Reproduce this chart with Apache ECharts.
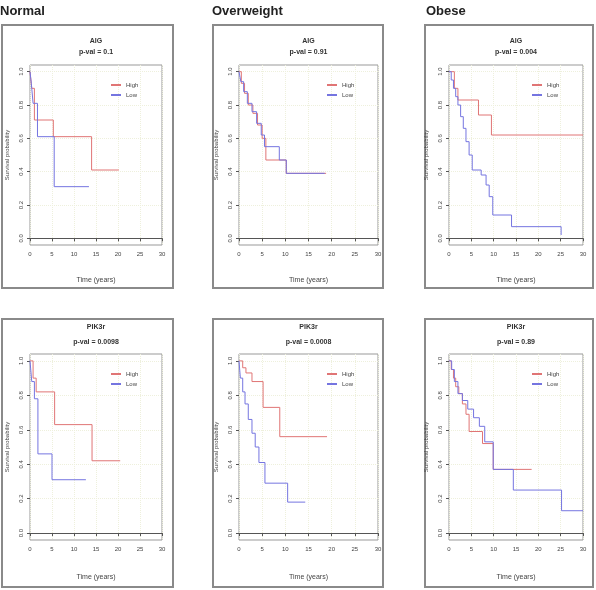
<!DOCTYPE html>
<html><head><meta charset="utf-8">
<script src="https://cdn.jsdelivr.net/npm/echarts@6/dist/echarts.min.js"></script>
<style>html,body{margin:0;padding:0;background:#fff}#c{width:596px;height:590px}</style>
</head><body><div id="c"></div>
<script>
// ---- data ----
var groups = ['Normal', 'Overweight', 'Obese'];
var genes = ['AIG', 'PIK3r'];
var pvals = [['p-val = 0.1', 'p-val = 0.91', 'p-val = 0.004'],
             ['p-val = 0.0098', 'p-val = 0.0008', 'p-val = 0.89']];
var seriesNames = ['High', 'Low'];
var xTicks = [0, 5, 10, 15, 20, 25, 30];
var yTicks = [0, 0.2, 0.4, 0.6, 0.8, 1.0];

// [time, survival] step points
var normalAigHigh = [[0,1],[0.4,0.9],[1.0,0.71],[5.3,0.61],[14,0.41],[20.2,0.41]];
var normalAigLow  = [[0,1],[0.3,0.93],[0.7,0.81],[1.7,0.61],[5.5,0.31],[13.4,0.31]];
var overAigHigh = [[0,1],[0.5,0.93],[1.2,0.87],[2,0.8],[3,0.75],[4,0.68],[5,0.6],[5.8,0.47],[10.2,0.39],[18.8,0.39]];
var overAigLow  = [[0,1],[0.4,0.94],[1.0,0.88],[1.8,0.81],[2.8,0.76],[3.8,0.69],[4.8,0.62],[5.5,0.55],[8.7,0.47],[10.2,0.39],[18.5,0.39]];
var obeseAigHigh = [[0,1],[1.2,0.9],[2.0,0.83],[6.6,0.74],[9.5,0.62],[30,0.62]];
var obeseAigLow  = [[0,1],[0.5,0.95],[1.0,0.9],[1.5,0.85],[2.0,0.8],[2.6,0.73],[3.2,0.66],[3.8,0.58],[4.5,0.5],[5.2,0.41],[7.2,0.38],[8.3,0.32],[9.0,0.25],[9.8,0.14],[14.0,0.07],[25.1,0.02],[25.1,0.02]];
var normalPikHigh = [[0,1],[0.7,0.9],[1.4,0.82],[5.6,0.63],[14.1,0.42],[20.5,0.42]];
var normalPikLow  = [[0,1],[0.4,0.88],[1.0,0.78],[1.8,0.46],[5.0,0.31],[12.7,0.31]];
var overPikHigh = [[0,1],[0.8,0.96],[1.5,0.93],[2.8,0.88],[5.2,0.73],[8.8,0.56],[19,0.56]];
var overPikLow  = [[0,1],[0.3,0.9],[0.8,0.82],[1.3,0.75],[2,0.66],[2.8,0.58],[3.5,0.5],[4.3,0.41],[5.6,0.29],[10.5,0.18],[14.3,0.18]];
var obesePikHigh = [[0,1],[0.5,0.95],[1,0.9],[1.5,0.85],[2.2,0.81],[3,0.75],[3.8,0.69],[4.5,0.59],[7.5,0.52],[9.9,0.37],[18.5,0.37]];
var obesePikLow  = [[0,1],[0.6,0.95],[1.2,0.88],[2,0.81],[3,0.77],[4.2,0.72],[5.5,0.67],[6.8,0.62],[8,0.53],[9.9,0.37],[14.4,0.25],[25.2,0.13],[30,0.13]];

var panelData = [
  [[normalAigHigh, normalAigLow], [overAigHigh, overAigLow], [obeseAigHigh, obeseAigLow]],
  [[normalPikHigh, normalPikLow], [overPikHigh, overPikLow], [obesePikHigh, obesePikLow]]
];

// ---- layout ----
var colX0 = [30, 239, 449], colX1 = [162, 378, 583];
var rowTop = [65, 354], rowH = [180, 186];
var titleTop = [36, 320], titleLH = [11, 15];
var boxX = [[2,173],[213,383],[425,593]];
var boxY = [[25,288],[319,587]];
var colors = ['#e07575', '#7575e0'];

var chart = echarts.init(document.getElementById('c'), null, {renderer: 'canvas'});
var grids = [], xAxes = [], yAxes = [], series = [], titles = [], legends = [], graphics = [];
var idx = 0;
for (var r = 0; r < 2; r++) {
  for (var c = 0; c < 3; c++) {
    grids.push({left: colX0[c], top: rowTop[r], width: colX1[c] - colX0[c], height: rowH[r],
      show: true, borderColor: '#999', borderWidth: 1, backgroundColor: 'transparent'});
    xAxes.push({type: 'value', gridIndex: idx, min: 0, max: 30, interval: 5,
      name: 'Time (years)', nameLocation: 'middle', nameGap: r === 0 ? 32 : 34,
      nameTextStyle: {fontSize: 7, color: '#444', fontFamily: 'Liberation Sans'},
      axisLine: {show: true, lineStyle: {color: '#555', width: 1}},
      axisTick: {show: true, length: 3, lineStyle: {color: '#555'}},
      axisLabel: {fontSize: 6, color: '#444', margin: 6, fontFamily: 'Liberation Sans'},
      splitLine: {show: true, lineStyle: {color: '#eef0dc', type: 'dotted'}}});
    yAxes.push({type: 'value', gridIndex: idx, min: -0.04, max: 1.04,
      name: 'Survival probability', nameLocation: 'middle', nameGap: 20, nameRotate: 90,
      nameTextStyle: {fontSize: 6, color: '#444', fontFamily: 'Liberation Sans'},
      axisLine: {show: false},
      axisTick: {show: true, length: 3, customValues: yTicks, lineStyle: {color: '#555'}},
      axisLabel: {fontSize: 6, color: '#444', rotate: 90, margin: 6, customValues: yTicks,
        formatter: function (v) { return v.toFixed(1); }, fontFamily: 'Liberation Sans'},
      splitLine: {show: true, lineStyle: {color: '#eef0dc', type: 'dotted'}}});
    for (var s = 0; s < 2; s++) {
      series.push({name: seriesNames[s], type: 'line', step: 'end', xAxisIndex: idx, yAxisIndex: idx,
        data: panelData[r][c][s], showSymbol: false, symbol: 'none', animation: false,
        lineStyle: {color: colors[s], width: 1}, itemStyle: {color: colors[s]}});
    }
    var cx = (colX0[c] + colX1[c]) / 2;
    titles.push({text: genes[r] + '\n' + pvals[r][c], left: cx, top: titleTop[r], textAlign: 'center', padding: 0,
      textStyle: {fontSize: 7, fontWeight: 'bold', color: '#333', lineHeight: titleLH[r], fontFamily: 'Liberation Sans'}});
    legends.push({data: seriesNames, orient: 'vertical', left: colX1[c] - 56, top: rowTop[r] + 12,
      itemWidth: 10, itemHeight: 2, itemGap: 4, icon: 'rect', selectedMode: false,
      textStyle: {fontSize: 6, color: '#444', fontFamily: 'Liberation Sans'}});
    graphics.push({type: 'rect', shape: {x: boxX[c][0], y: boxY[r][0], width: boxX[c][1] - boxX[c][0], height: boxY[r][1] - boxY[r][0]},
      style: {fill: 'none', stroke: '#8a8a8a', lineWidth: 2}, silent: true});
    idx++;
  }
}
var headX = [0, 212, 426];
for (var g = 0; g < 3; g++) {
  titles.push({text: groups[g], left: headX[g], top: 5, padding: 0,
    textStyle: {fontSize: 13, fontWeight: 'bold', color: '#222', fontFamily: 'Liberation Sans'}});
}
chart.setOption({
  animation: false,
  title: titles, legend: legends, grid: grids, xAxis: xAxes, yAxis: yAxes, series: series,
  graphic: graphics
});
</script></body></html>
